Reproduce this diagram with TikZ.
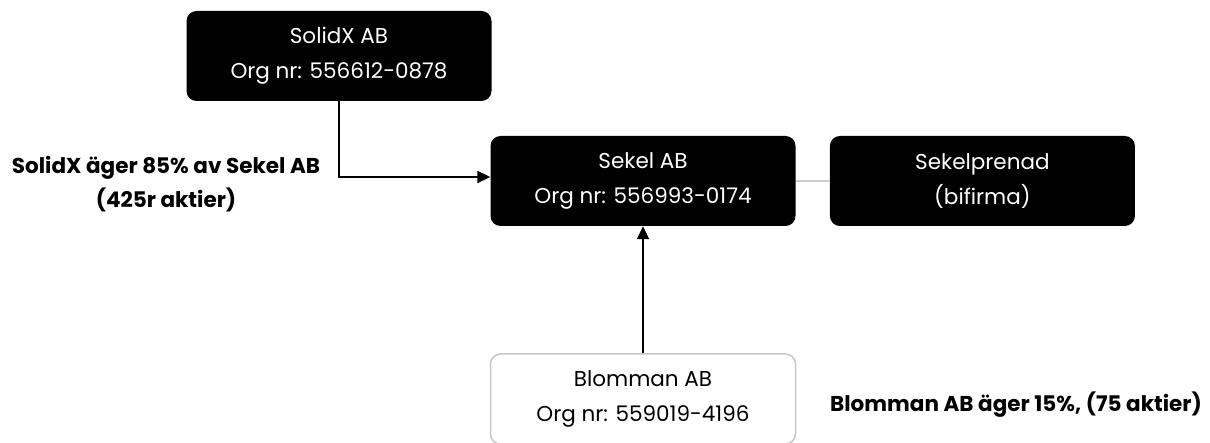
\documentclass[tikz,border=0pt]{standalone}
\usepackage{fontspec}
\setmainfont{Poppins}
\usetikzlibrary{arrows.meta,positioning}
\tikzset{>/.tip={Triangle[length=13pt,width=12pt]}}
\tikzset{firma/.style={fill=black,text=white,rounded corners=10pt,minimum width=305pt,minimum height=90pt,align=center,font=\fontsize{21.5}{35}\selectfont}}
\tikzset{firmaljus/.style={firma,fill=white,text=black,draw=black!22,line width=1.5pt}}
\tikzset{agare/.style={align=center,font=\fontsize{21.5}{34}\selectfont\bfseries}}

\begin{document}
\begin{tikzpicture}[x=1pt,y=-1pt,node distance=34pt]
  \useasboundingbox (0,0) rectangle (1210,443);
  \node[firma] (sekel) at (643,181) {Sekel AB\\Org nr: 556993-0174};
  \node[firma,right=of sekel] (prenad) {Sekelprenad\\(bifirma)};
  \node[firma] (solidx) at (339,56) {SolidX AB\\Org nr: 556612-0878};
  \node[firmaljus] (blomman) at (643,399) {Blomman AB\\Org nr: 559019-4196};

  \node[agare] (solidxtext) at (166,184) {SolidX äger 85\% av Sekel AB\\(425r aktier)};
  \node[agare] (blommantext) at (1016,405) {Blomman AB äger 15\%, (75 aktier)};

  \draw[black!20,line width=2pt] (sekel) -- (prenad);
  \draw[->,line width=2pt] (solidx.south) |- ([yshift=4pt]sekel.west);
  \draw[->,line width=2pt] (blomman.north) -- (sekel.south);
\end{tikzpicture}
\end{document}
